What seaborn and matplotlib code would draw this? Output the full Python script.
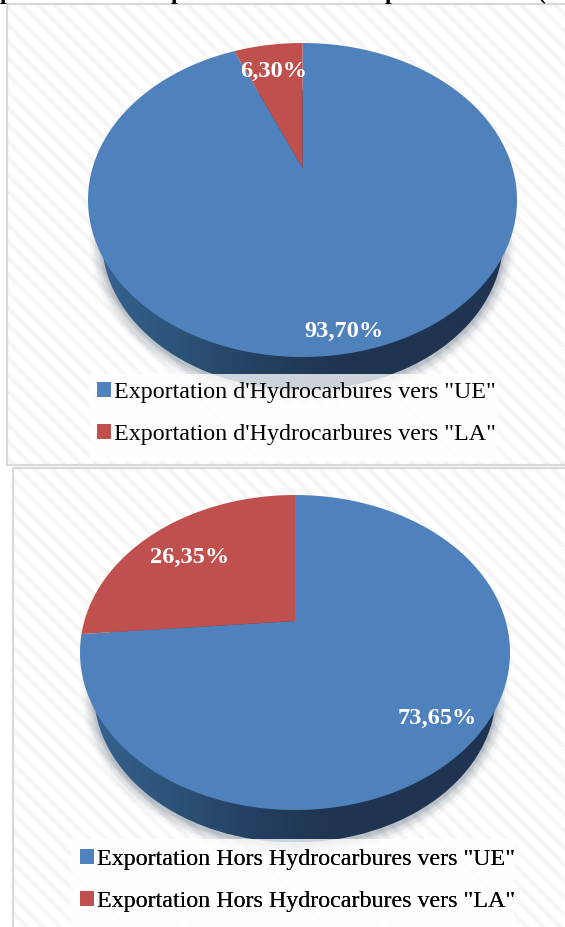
import numpy as np
import matplotlib
matplotlib.use("Agg")
import matplotlib.pyplot as plt
import matplotlib.transforms as mtransforms
from matplotlib.colors import LinearSegmentedColormap
from matplotlib.patches import Ellipse, Patch, Rectangle
from matplotlib.path import Path
import seaborn as sns

# ---- data ----
shares_hydro = [93.70, 6.30]
shares_hors = [73.65, 26.35]
labels_hydro = ["Exportation d'Hydrocarbures vers \"UE\"", "Exportation d'Hydrocarbures vers \"LA\""]
labels_hors = ["Exportation Hors Hydrocarbures vers \"UE\"", "Exportation Hors Hydrocarbures vers \"LA\""]
clipped_title_glyphs = ["p", "p", "p", "("]
glyph_x = [6, 177, 391, 542]

sns.set_theme(style="white")
plt.rcParams["font.family"] = ["Liberation Serif", "DejaVu Serif"]
plt.rcParams["hatch.linewidth"] = 3.2
palette = sns.color_palette(["#4F81BD", "#C0504D"])
wall_cmap = LinearSegmentedColormap.from_list(
    "wall", ["#35628F", "#2C5277", "#243F60", "#1F3450", "#1F3450", "#1F3450"])


class Perspective(mtransforms.Transform):
    """Tilted-disc projection of the unit pie onto pixel coordinates."""
    input_dims = output_dims = 2
    has_inverse = False

    def __init__(self, cx, tip_y, a, b, k):
        super().__init__()
        self.cx, self.tip_y, self.a, self.b, self.k = cx, tip_y, a, b, k

    def transform_non_affine(self, xy):
        xy = np.asarray(xy, float)
        d = 1 + self.k * xy[:, 1]
        return np.column_stack([self.cx + self.a * xy[:, 0] / d,
                                self.tip_y - self.b * xy[:, 1] / d])

    def transform_path_non_affine(self, path):
        fine = mtransforms.Affine2D().scale(2000).transform_path(path)
        polys = fine.to_polygons(closed_only=True)
        verts = np.vstack(polys) / 2000
        return Path(self.transform_non_affine(verts), closed=True)


W, H = 565, 927
fig = plt.figure(figsize=(W / 100, H / 100), dpi=100, facecolor="white")
ax = fig.add_axes([0, 0, 1, 1])


def panel(x0, y0, x1, y1):
    ax.add_patch(Rectangle((x0, y0), x1 - x0, y1 - y0, fc="white", ec="#F6F6F6",
                           hatch="\\\\", lw=0, zorder=0))
    ax.add_patch(Rectangle((x0, y0), x1 - x0, y1 - y0, fill=False, ec="#D9D9D9",
                           lw=1.6, zorder=1))


def pie_panel(values, names, cx, tip_y, top, bottom, rx, label_xy, box, legend_xy):
    k_b = (bottom - tip_y) / (tip_y - top)
    k = (k_b - 1) / (k_b + 1)
    b = (tip_y - top) * (1 + k)
    a = rx * np.sqrt(1 - k * k)
    cy = (top + bottom) / 2
    wall_rx, wall_ry, wall_cy = rx - 14, 150, cy + 40

    # soft shadow under the disc
    for grow, alpha in zip([12, 9, 7, 4, 2], [.05, .07, .09, .12, .15]):
        ax.add_patch(Ellipse((cx, wall_cy + 2), 2 * (wall_rx + grow), 2 * (wall_ry + grow),
                             fc="#5A6A7A", ec="none", alpha=alpha, zorder=2))
    # side wall
    wall = Ellipse((cx, wall_cy), 2 * wall_rx, 2 * wall_ry, fc="none", ec="none", zorder=3)
    ax.add_patch(wall)
    im = ax.imshow(np.linspace(0, 1, 256)[None, :], cmap=wall_cmap, aspect="auto",
                   extent=(cx - wall_rx, cx + wall_rx, wall_cy + wall_ry, wall_cy - wall_ry),
                   zorder=3)
    im.set_clip_path(wall)

    wedges, _, autos = ax.pie(values, colors=palette, startangle=90, counterclock=False,
                              autopct=lambda p: f"{p:.2f}%".replace(".", ","),
                              wedgeprops={"linewidth": 0, "zorder": 4},
                              textprops={"color": "white", "fontweight": "bold", "fontsize": 17.6})
    ax.set_aspect("auto")
    persp = Perspective(cx, tip_y, a, b, k)
    for w in wedges:
        w.set_transform(persp + ax.transData)
        w.set_zorder(4)
    for t, (x, y) in zip(autos, label_xy):
        t.set_position((x, y))
        t.set_zorder(6)

    # translucent legend backing
    ax.add_patch(Rectangle((box[0], box[1]), box[2] - box[0], box[3] - box[1],
                           fc="white", ec="none", alpha=0.78, zorder=5))
    handles = [Patch(fc=c, ec="none") for c in palette]
    leg = ax.legend(handles, names, loc="upper left", bbox_to_anchor=legend_xy,
                    bbox_transform=ax.transData, frameon=False, borderpad=0, borderaxespad=0,
                    fontsize=17.3, labelspacing=0.87, handlelength=0.58, handleheight=0.58,
                    handletextpad=0.13, labelcolor="black")
    leg.set_zorder(7)
    ax.add_artist(leg)


panel(7, 4, 570, 465)
panel(13, 468, 570, 932)

pie_panel(shares_hydro, labels_hydro, 302.5, 168, 43, 357, 214.5,
          [(344, 331), (274, 71)], (90, 374, 497, 461), (97, 382))
pie_panel(shares_hors, labels_hors, 295, 621, 495, 810, 215,
          [(437, 718), (190, 557)], (71, 839, 514, 927), (80, 849))

for g, x in zip(clipped_title_glyphs, glyph_x):
    ax.text(x, -1, g, ha="center", va="baseline", fontsize=17, fontweight="bold",
            color="black", zorder=8, clip_on=True)

ax.set_xlim(0, W)
ax.set_ylim(H, 0)
ax.axis("off")
fig.savefig("out.png", dpi=100, facecolor="white")
